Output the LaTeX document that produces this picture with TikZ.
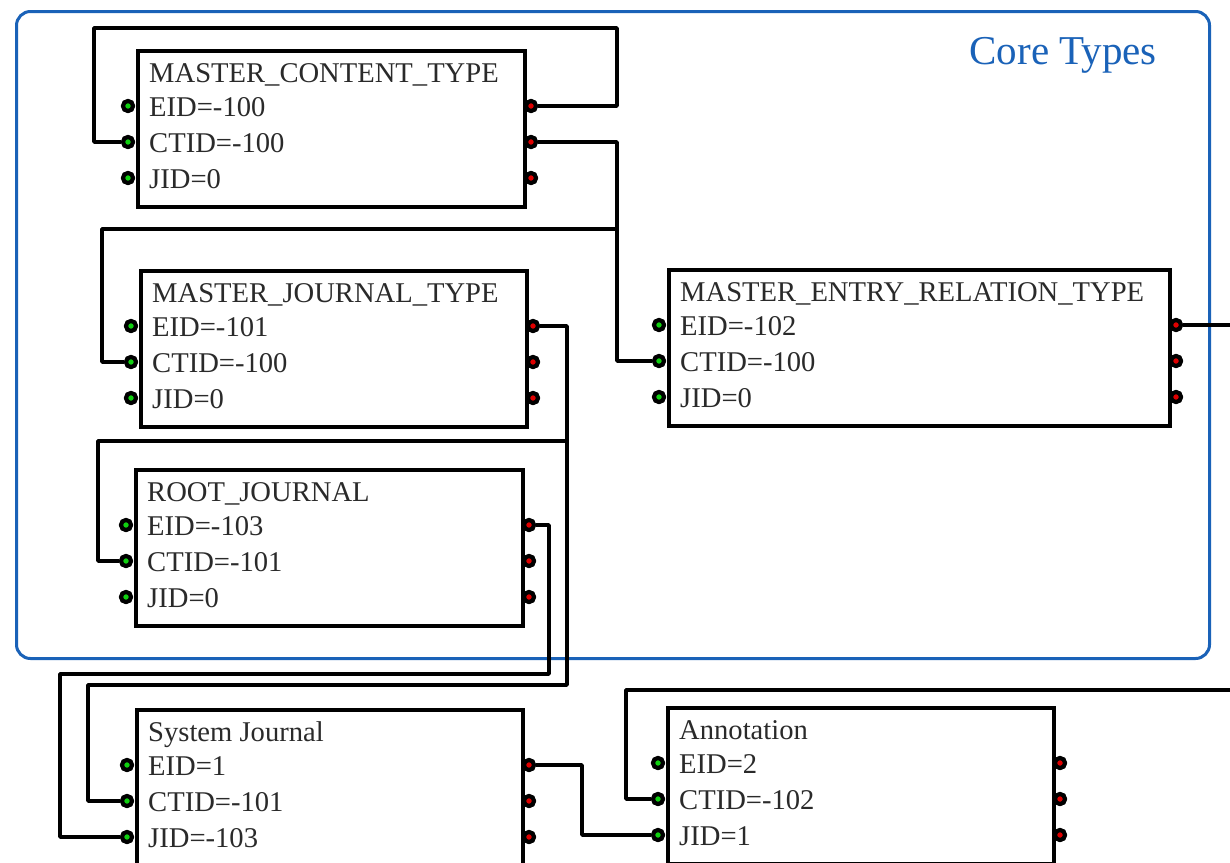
\documentclass[tikz,border=0pt]{standalone}
\usepackage{fontspec}
\setmainfont{Liberation Serif}
\definecolor{coreblue}{HTML}{1A62B8}
\definecolor{portgreen}{HTML}{10D010}
\definecolor{portred}{HTML}{E00000}
\definecolor{inktext}{HTML}{2A2A2A}
\tikzset{
  entitybox/.style={draw=black, fill=white, line width=3.5pt, inner sep=0pt, rectangle},
  fieldtext/.style={inner sep=0pt, text=inktext, font=\fontsize{28.6}{30}\selectfont},
  portbase/.style={circle, draw=black, line width=4pt, inner sep=0pt, minimum size=10pt},
  inport/.style={portbase, fill=portgreen},
  outport/.style={portbase, fill=portred},
  wire/.style={draw=black, line width=3.5pt, line join=round},
}
% \entity{name}{left}{top}{width}{title}{line 1}{line 2}{line 3}
\newcommand\entity[8]{%
  \node[entitybox, anchor=north west, minimum width=#4pt, minimum height=156pt] (#1) at (#2,#3) {};
  \node[fieldtext, anchor=base west] (#1-title) at (#2+13,#3+33) {#5};
  \node[fieldtext, anchor=base west] (#1-f1) at (#2+13,#3+67) {#6};
  \node[fieldtext, anchor=base west] (#1-f2) at (#2+13,#3+103) {#7};
  \node[fieldtext, anchor=base west] (#1-f3) at (#2+13,#3+139) {#8};
  \node[inport] (#1-i1) at (#2-8,#3+57) {};
  \node[inport] (#1-i2) at (#2-8,#3+93) {};
  \node[inport] (#1-i3) at (#2-8,#3+129) {};
  \node[outport] (#1-o1) at (#2+#4+8,#3+57) {};
  \node[outport] (#1-o2) at (#2+#4+8,#3+93) {};
  \node[outport] (#1-o3) at (#2+#4+8,#3+129) {};
}
\begin{document}
\begin{tikzpicture}[x=1pt, y=-1pt]
  \path[use as bounding box, clip] (0,0) rectangle (1230,862);
  \fill[white] (0,0) rectangle (1230,862);

  % group frame
  \node[draw=coreblue, line width=3pt, rounded corners=14pt, inner sep=0pt,
        minimum width=1193pt, minimum height=647pt, anchor=north west] (core) at (15,10) {};
  \node[inner sep=0pt, text=coreblue, font=\fontsize{41}{44}\selectfont, anchor=base east]
        (coretitle) at (1157,64) {Core Types};

  % routing points
  \coordinate (loopA) at (617,28);
  \coordinate (loopB) at (94,28);
  \coordinate (ctA) at (617,229);
  \coordinate (ctB) at (102,229);
  \coordinate (jtA) at (567,441);
  \coordinate (jtB) at (98,441);
  \coordinate (jtC) at (567,685);
  \coordinate (jtD) at (88,685);
  \coordinate (rjA) at (549,674);
  \coordinate (rjB) at (60,674);
  \coordinate (sjA) at (582,800);
  \coordinate (anA) at (626,690);
  \coordinate (anB) at (1240,690);
  \coordinate (edgeR) at (1240,0);

  % entities
  \entity{mct}{136}{49}{387}{MASTER\_CONTENT\_TYPE}{EID=-100}{CTID=-100}{JID=0}
  \entity{mjt}{139}{269}{386}{MASTER\_JOURNAL\_TYPE}{EID=-101}{CTID=-100}{JID=0}
  \entity{mert}{667}{268}{501}{MASTER\_ENTRY\_RELATION\_TYPE}{EID=-102}{CTID=-100}{JID=0}
  \entity{rj}{134}{468}{387}{ROOT\_JOURNAL}{EID=-103}{CTID=-101}{JID=0}
  \entity{sj}{135}{708}{386}{System Journal}{EID=1}{CTID=-101}{JID=-103}
  \entity{ann}{666}{706}{386}{Annotation}{EID=2}{CTID=-102}{JID=1}

  % references
  \draw[wire] (mct-o1) -| (loopA) -- (loopB) |- (mct-i2);
  \draw[wire] (mct-o2) -| (ctA) |- (mert-i2);
  \draw[wire] (ctA) -- (ctB) |- (mjt-i2);
  \draw[wire] (mjt-o1) -| (jtA) -- (jtB) |- (rj-i2);
  \draw[wire] (jtA) -- (jtC) -- (jtD) |- (sj-i2);
  \draw[wire] (rj-o1) -| (rjA) -- (rjB) |- (sj-i3);
  \draw[wire] (sj-o1) -| (sjA) |- (ann-i3);
  \draw[wire] (mert-o1) -- (mert-o1 -| edgeR);
  \draw[wire] (ann-i2) -| (anA) -- (anB);

  % ports on top of the wires
  \foreach \e in {mct,mjt,mert,rj,sj,ann}{
    \foreach \k in {1,2,3}{
      \node[inport] at (\e-i\k) {};
      \node[outport] at (\e-o\k) {};
    }
  }
\end{tikzpicture}
\end{document}
